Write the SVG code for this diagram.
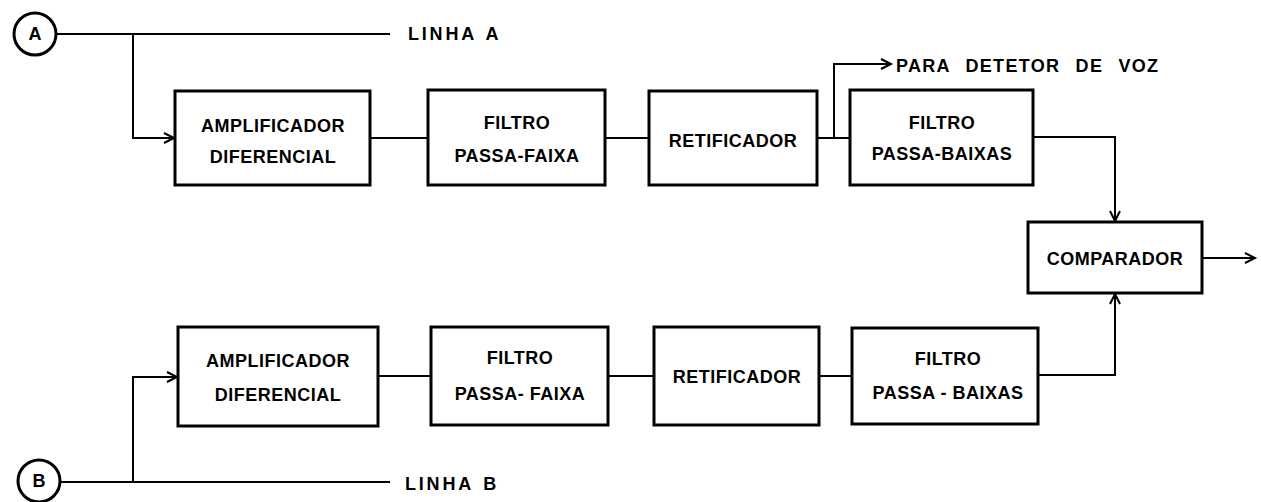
<svg xmlns="http://www.w3.org/2000/svg" width="1261" height="502" viewBox="0 0 1261 502">
<defs>
<style>
.box{fill:#fff;stroke:#000;stroke-width:3}
.c{fill:none;stroke:#000;stroke-width:2}
.t{font-family:"Liberation Sans",Arial,sans-serif;font-weight:bold;font-size:18px;fill:#000;text-anchor:middle;letter-spacing:0.5px}
.l{font-family:"Liberation Sans",Arial,sans-serif;font-weight:bold;font-size:18px;fill:#000;letter-spacing:2.8px;word-spacing:2px}
.p{font-family:"Liberation Sans",Arial,sans-serif;font-weight:bold;font-size:18px;fill:#000;letter-spacing:1.3px;word-spacing:9px}
</style>
<marker id="arr" markerUnits="userSpaceOnUse" markerWidth="14" markerHeight="14" refX="11" refY="6" orient="auto">
<path d="M1,1 L11,6 L1,11" fill="none" stroke="#000" stroke-width="2"/>
</marker>
</defs>
<rect width="1261" height="502" fill="#fff"/>
<g id="connectors">
<path class="c" d="M56 34 H390"/>
<path class="c" d="M133 34 V138 H174" marker-end="url(#arr)"/>
<path class="c" d="M370 138 H428"/>
<path class="c" d="M605 138 H649"/>
<path class="c" d="M817 138 H850"/>
<path class="c" d="M834 138 V64 H891" marker-end="url(#arr)"/>
<path class="c" d="M1033 137 H1115 V221" marker-end="url(#arr)"/>
<path class="c" d="M1202 258 H1255" marker-end="url(#arr)"/>
<path class="c" d="M60 482 H390"/>
<path class="c" d="M133 482 V377 H177" marker-end="url(#arr)"/>
<path class="c" d="M378 376 H431"/>
<path class="c" d="M608 376 H654"/>
<path class="c" d="M819 376 H852"/>
<path class="c" d="M1038 375 H1115 V294" marker-end="url(#arr)"/>
</g>
<g id="inA">
<circle cx="35" cy="34" r="21" fill="#fff" stroke="#000" stroke-width="3"/>
<text class="t" x="35" y="40" style="letter-spacing:0">A</text>
</g>
<g id="inB">
<circle cx="39" cy="481" r="21" fill="#fff" stroke="#000" stroke-width="3"/>
<text class="t" x="39" y="487" style="letter-spacing:0">B</text>
</g>
<g id="linhaA"><text class="l" x="408" y="40">LINHA A</text></g>
<g id="linhaB"><text class="l" x="405" y="490">LINHA B</text></g>
<g id="paraDetetor"><text class="p" x="896" y="72">PARA DETETOR DE VOZ</text></g>
<g id="ampA">
<rect class="box" x="175" y="91" width="195" height="94"/>
<text class="t" x="273" y="132">AMPLIFICADOR</text>
<text class="t" x="273" y="163">DIFERENCIAL</text>
</g>
<g id="pfA">
<rect class="box" x="428" y="90" width="177" height="95"/>
<text class="t" x="517" y="129">FILTRO</text>
<text class="t" x="517" y="162">PASSA-FAIXA</text>
</g>
<g id="retA">
<rect class="box" x="649" y="91" width="168" height="94"/>
<text class="t" x="733" y="147">RETIFICADOR</text>
</g>
<g id="pbA">
<rect class="box" x="850" y="90" width="183" height="95"/>
<text class="t" x="942" y="129">FILTRO</text>
<text class="t" x="942" y="160">PASSA-BAIXAS</text>
</g>
<g id="comparador">
<rect class="box" x="1028" y="222" width="174" height="71"/>
<text class="t" x="1115" y="265">COMPARADOR</text>
</g>
<g id="ampB">
<rect class="box" x="178" y="327" width="200" height="99"/>
<text class="t" x="278" y="367">AMPLIFICADOR</text>
<text class="t" x="278" y="401">DIFERENCIAL</text>
</g>
<g id="pfB">
<rect class="box" x="431" y="327" width="177" height="98"/>
<text class="t" x="520" y="364">FILTRO</text>
<text class="t" x="520" y="400">PASSA- FAIXA</text>
</g>
<g id="retB">
<rect class="box" x="654" y="327" width="165" height="98"/>
<text class="t" x="737" y="383">RETIFICADOR</text>
</g>
<g id="pbB">
<rect class="box" x="852" y="328" width="186" height="96"/>
<text class="t" x="948" y="365">FILTRO</text>
<text class="t" x="948" y="399">PASSA - BAIXAS</text>
</g>
</svg>
